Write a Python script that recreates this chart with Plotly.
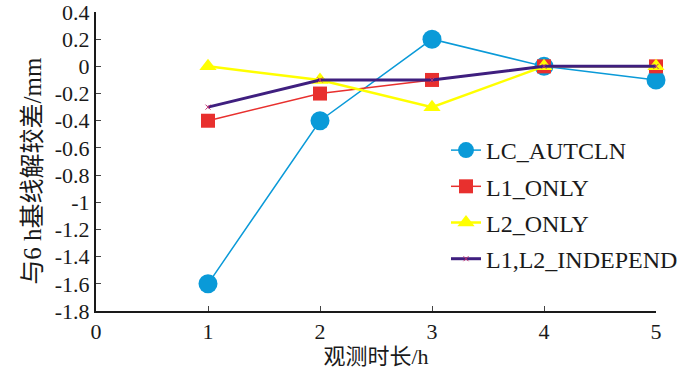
import plotly.graph_objects as go

hours = [1, 2, 3, 4, 5]
lc_autcln = [-1.6, -0.4, 0.2, 0.0, -0.1]
l1_only = [-0.4, -0.2, -0.1, 0.0, 0.0]
l2_only = [0.0, -0.1, -0.3, 0.0, 0.0]
l1l2_indep = [-0.3, -0.1, -0.1, 0.0, 0.0]

x_ticks = [0, 1, 2, 3, 4, 5]
y_ticks = [0.4, 0.2, 0, -0.2, -0.4, -0.6, -0.8, -1, -1.2, -1.4, -1.6, -1.8]
y_ticktext = ["0.4", "0.2", "0", "-0.2", "-0.4", "-0.6", "-0.8", "-1", "-1.2", "-1.4", "-1.6", "-1.8"]

FONT = "Liberation Serif, Times New Roman, Noto Sans CJK SC, serif"

fig = go.Figure()
fig.add_trace(go.Scatter(x=hours, y=lc_autcln, name="LC_AUTCLN", mode="lines+markers",
                         line=dict(color="#0a9ad8", width=1.5),
                         marker=dict(symbol="circle", size=19, color="#0a9ad8"),
                         legendgroup="a", cliponaxis=False))
fig.add_trace(go.Scatter(x=hours, y=l1_only, name="L1_ONLY", mode="lines+markers",
                         line=dict(color="#e8302e", width=1.5),
                         marker=dict(symbol="square", size=14, color="#e8302e"),
                         legendgroup="b", cliponaxis=False))
fig.add_trace(go.Scatter(x=hours, y=l2_only, name="L2_ONLY", mode="lines+markers",
                         line=dict(color="#ffff00", width=2.5),
                         marker=dict(symbol="triangle-up", size=15, color="#ffff00"),
                         legendgroup="c", cliponaxis=False))
fig.add_trace(go.Scatter(x=hours, y=l1l2_indep, name="L1,L2_INDEPEND", mode="lines+markers",
                         line=dict(color="#3f1f7f", width=3),
                         marker=dict(symbol="x-thin", size=5, color="#c03070",
                                     line=dict(width=1, color="#c03070")),
                         legendgroup="d", cliponaxis=False))

fig.add_annotation(text="与6 h基线解较差/mm", textangle=-90,
                   xref="paper", yref="paper", x=-0.114, y=0.47,
                   xanchor="center", yanchor="middle", showarrow=False,
                   font=dict(size=25, family=FONT, color="#1a1a1a"))

fig.update_layout(
    width=700, height=371,
    margin=dict(l=96, r=44, t=12, b=60),
    paper_bgcolor="white", plot_bgcolor="white",
    font=dict(family=FONT, size=22, color="#1a1a1a"),
    showlegend=True,
    legend=dict(x=0.625, y=0.612, xanchor="left", yanchor="top",
                bgcolor="rgba(0,0,0,0)", font=dict(size=24, family=FONT),
                tracegroupgap=2, itemwidth=30),
    xaxis=dict(range=[0, 5], tickvals=x_ticks, ticks="inside", ticklen=5,
               showline=True, linecolor="#1a1a1a", linewidth=2, showgrid=False,
               zeroline=False, tickfont=dict(size=22, family=FONT), automargin=False,
               ticklabeloverflow="allow",
               title=dict(text="观测时长/h", font=dict(size=22, family=FONT), standoff=2)),
    yaxis=dict(range=[-1.8, 0.4], tickvals=y_ticks, ticktext=y_ticktext, ticks="inside",
               ticklen=5, showline=True, linecolor="#1a1a1a", linewidth=2, showgrid=False,
               zeroline=False, tickfont=dict(size=22, family=FONT), automargin=False,
               ticklabeloverflow="allow"),
)

fig.write_html("out.html", config={"displayModeBar": False},
               post_script="document.body.style.margin='0';document.body.style.padding='0';")
